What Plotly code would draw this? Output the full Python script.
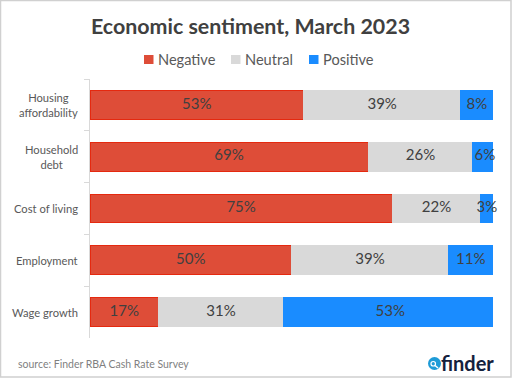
import plotly.graph_objects as go

categories = ["Housing<br>affordability", "Household<br>debt", "Cost of living", "Employment", "Wage growth"]
negative = [53, 69, 75, 50, 17]
neutral = [39, 26, 22, 39, 31]
positive = [8, 6, 3, 11, 53]
series = [("Negative", negative, "#DE4D38", "#E5290F"),
          ("Neutral", neutral, "#D9D9D9", "#D9D9D9"),
          ("Positive", positive, "#1A8CFF", "#1A8CFF")]
FONT = "Lato, Carlito, sans-serif"
L, R, T, B = 90, 493, 79, 338
W, H = R - L, B - T


def px(x):
    return (x - L) / W


def py(y):
    return (B - y) / H


fig = go.Figure()
base = [0] * len(categories)
for name, vals, col, edge in series:
    fig.add_bar(y=categories, x=vals, name=name, orientation="h", showlegend=False,
                marker=dict(color=col, line=dict(color=edge, width=1)))
    fig.add_scatter(y=categories, x=[b + v / 2 for b, v in zip(base, vals)], mode="text",
                    text=[f"{v}%" for v in vals], textposition="middle center", showlegend=False,
                    textfont=dict(family=FONT, size=15, color="#404040"), cliponaxis=False)
    base = [b + v for b, v in zip(base, vals)]

annotations = [dict(text=c, xref="paper", yref="y", x=px(80), y=c, xanchor="right",
                    align="center", showarrow=False,
                    font=dict(family=FONT, size=11.2, color="#595959"))
               for c in categories]
annotations += [
    dict(text="<b>Economic sentiment, March 2023</b>", xref="paper", yref="paper",
         x=px(250), y=py(25.5), showarrow=False, xanchor="center", yanchor="middle",
         font=dict(family=FONT, size=21.4, color="#404040")),
    dict(text="source: Finder RBA Cash Rate Survey", xref="paper", yref="paper",
         x=px(16), y=py(364), showarrow=False, xanchor="left", yanchor="middle",
         font=dict(family=FONT, size=10.5, color="#7F7F7F")),
    dict(text="<b>finder</b>", xref="paper", yref="paper",
         x=px(496), y=py(363), showarrow=False, xanchor="right", yanchor="middle",
         font=dict(family=FONT, size=20, color="#14213D")),
]
shapes = [
    dict(type="rect", xref="paper", yref="paper", x0=px(0.5), x1=px(511), y0=py(377), y1=py(0.5),
         line=dict(color="#D0D0D0", width=1.5)),
    dict(type="circle", xref="paper", yref="paper", x0=px(428), x1=px(441), y0=py(370), y1=py(357),
         fillcolor="#1E9BD7", line=dict(width=0)),
    dict(type="circle", xref="paper", yref="paper", x0=px(431), x1=px(435.5), y0=py(366), y1=py(361.5),
         line=dict(color="white", width=1.2)),
    dict(type="line", xref="paper", yref="paper", x0=px(435), x1=px(438), y0=py(365.5), y1=py(368),
         line=dict(color="white", width=1.5)),
]
legend_x = [144, 231, 309]
for (name, _, col, _e), lx in zip(series, legend_x):
    shapes.append(dict(type="rect", xref="paper", yref="paper", x0=px(lx), x1=px(lx + 9.5),
                       y0=py(64), y1=py(55), fillcolor=col, line=dict(width=0)))
    annotations.append(dict(text=name, xref="paper", yref="paper", x=px(lx + 12), y=py(59.5),
                            xanchor="left", yanchor="middle", showarrow=False,
                            font=dict(family=FONT, size=14.6, color="#595959")))

fig.update_layout(
    width=512, height=378, barmode="stack", bargap=0.445,
    margin=dict(l=L, r=512 - R, t=T, b=378 - B, pad=0), autosize=False,
    paper_bgcolor="white", plot_bgcolor="white", showlegend=False,
    xaxis=dict(range=[0, 100], visible=False, fixedrange=True),
    yaxis=dict(autorange="reversed", type="category", tickson="boundaries", ticks="outside",
               ticklen=5, tickcolor="#D9D9D9", showline=True, linecolor="#D9D9D9",
               linewidth=1, showticklabels=False, showgrid=False),
    annotations=annotations,
    shapes=shapes,
)
fig.write_html("out.html", config=dict(displayModeBar=False),
               post_script="document.body.style.margin='0';document.documentElement.style.overflow='hidden';")
